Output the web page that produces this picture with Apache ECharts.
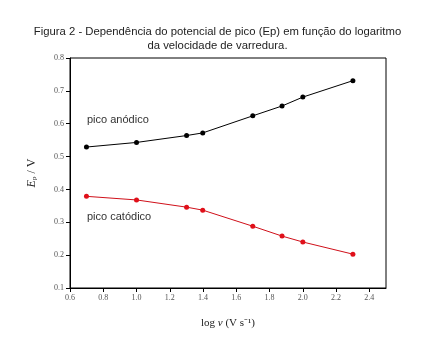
<!DOCTYPE html>
<html>
<head>
<meta charset="utf-8">
<script src="https://cdn.jsdelivr.net/npm/echarts@6/dist/echarts.min.js"></script>
<style>
  html, body { margin: 0; padding: 0; background: #fff; }
  #chart { width: 435px; height: 353px; }
</style>
</head>
<body>
<div id="chart"></div>
<script>
// log of scan rate (5, 10, 20, 25, 50, 75, 100, 200 mV/s)
const logV = [0.699, 1.0, 1.301, 1.398, 1.699, 1.875, 2.0, 2.301]
const epAnodic = [0.529, 0.543, 0.564, 0.572, 0.624, 0.654, 0.681, 0.731]
const epCathodic = [0.379, 0.368, 0.346, 0.337, 0.288, 0.258, 0.240, 0.203]

const titleLines = [
  'Figura 2 - Dependência do potencial de pico (Ep) em função do logaritmo',
  'da velocidade de varredura.'
]

const pairs = (xs, ys) => xs.map((x, i) => [x, ys[i]])

const serif = '"Liberation Serif", "Times New Roman", serif'
const sans = '"Liberation Sans", Arial, sans-serif'
const titleStyle = { fontFamily: sans, fontSize: 11.3, fontWeight: 'normal', color: '#222' }

const chart = echarts.init(document.getElementById('chart'))
chart.setOption({
  animation: false,
  backgroundColor: '#fff',
  title: [
    { text: titleLines[0], left: 'center', top: 26, textStyle: titleStyle, padding: 0 },
    { text: titleLines[1], left: 'center', top: 40, textStyle: titleStyle, padding: 0 }
  ],
  grid: { left: 70, right: 49, top: 58, bottom: 65 },
  xAxis: {
    type: 'value',
    min: 0.6,
    max: 2.5,
    interval: 0.2,
    name: '{a|log }{i|v}{a| (V s⁻¹)}',
    nameLocation: 'middle',
    nameGap: 30,
    nameTextStyle: {
      rich: {
        a: { fontFamily: serif, fontSize: 11, color: '#222' },
        i: { fontFamily: serif, fontSize: 11, fontStyle: 'italic', color: '#222' }
      }
    },
    axisLine: { show: true, lineStyle: { color: '#000', width: 1 } },
    axisTick: { show: true, length: 4, lineStyle: { color: '#000' } },
    axisLabel: {
      fontFamily: serif, fontSize: 8, color: '#555', margin: 6,
      formatter: v => (Math.round(v * 10) / 10).toFixed(1),
      showMaxLabel: false
    },
    splitLine: { show: false }
  },
  yAxis: {
    type: 'value',
    min: 0.1,
    max: 0.8,
    interval: 0.1,
    name: '{e|E}{p|p}{a| / V}',
    nameLocation: 'middle',
    nameRotate: 90,
    nameGap: 32,
    nameTextStyle: {
      rich: {
        e: { fontFamily: serif, fontSize: 12, fontStyle: 'italic', color: '#222' },
        p: { fontFamily: serif, fontSize: 7, color: '#222', verticalAlign: 'bottom', padding: [6, 0, 0, 0] },
        a: { fontFamily: serif, fontSize: 12, color: '#222' }
      }
    },
    axisLine: { show: true, lineStyle: { color: '#000', width: 1 } },
    axisTick: { show: true, length: 4, lineStyle: { color: '#000' } },
    axisLabel: {
      fontFamily: serif, fontSize: 8, color: '#555', margin: 6,
      formatter: v => (Math.round(v * 10) / 10).toFixed(1)
    },
    splitLine: { show: false }
  },
  graphic: [
    {
      type: 'rect',
      shape: { x: 70, y: 58, width: 316, height: 230 },
      style: { fill: 'none', stroke: '#000', lineWidth: 1 },
      silent: true
    },
    {
      type: 'text', left: 87, top: 114,
      style: { text: 'pico anódico', font: '11px "Liberation Sans", Arial, sans-serif', fill: '#333' }
    },
    {
      type: 'text', left: 87, top: 211,
      style: { text: 'pico catódico', font: '11px "Liberation Sans", Arial, sans-serif', fill: '#333' }
    }
  ],
  series: [
    {
      name: 'pico anódico',
      type: 'line',
      data: pairs(logV, epAnodic),
      symbol: 'circle',
      symbolSize: 5,
      lineStyle: { color: '#000', width: 1 },
      itemStyle: { color: '#000' }
    },
    {
      name: 'pico catódico',
      type: 'line',
      data: pairs(logV, epCathodic),
      symbol: 'circle',
      symbolSize: 5,
      lineStyle: { color: '#d0101a', width: 1 },
      itemStyle: { color: '#e0101a' }
    }
  ]
})
</script>
</body>
</html>
